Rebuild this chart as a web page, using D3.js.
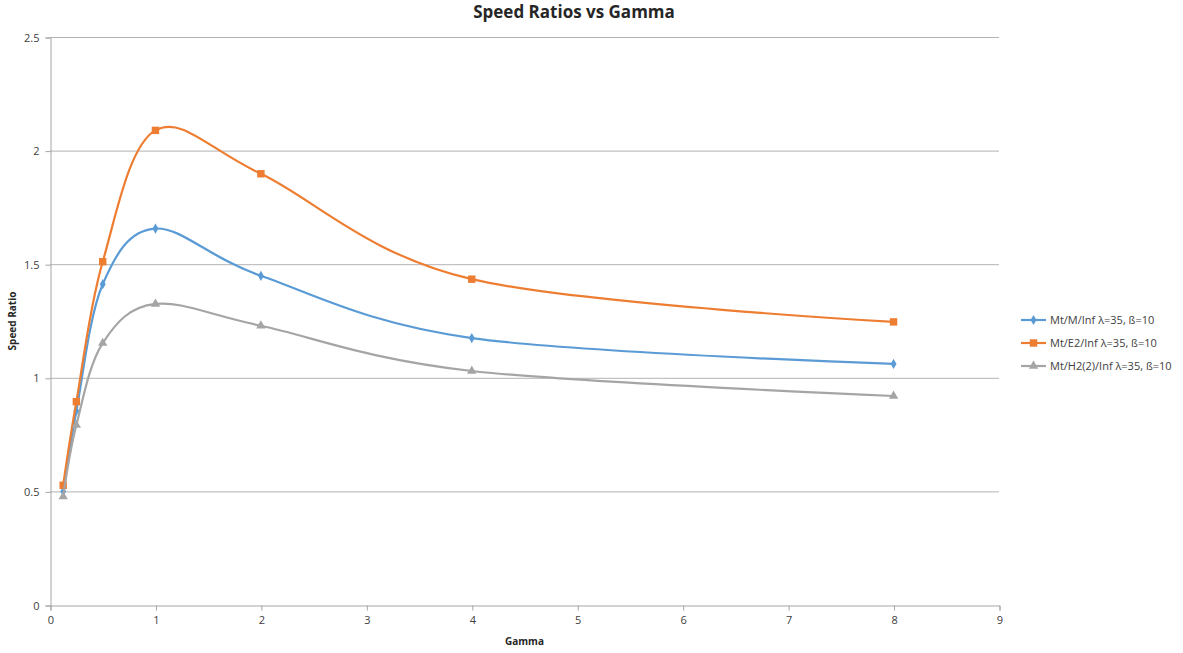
<!DOCTYPE html>
<html>
<head>
<meta charset="utf-8">
<script src="https://cdn.jsdelivr.net/npm/d3@7"></script>
<style>
  body { margin: 0; background: #fff; }
  text { font-family: "Open Sans", "Liberation Sans", sans-serif; }
</style>
</head>
<body>
<div id="chart"></div>
<script>
// data
var gamma = [0.125, 0.25, 0.5, 1, 2, 4, 8];
var mmInf = [0.50, 0.854, 1.412, 1.657, 1.449, 1.175, 1.061];
var e2Inf = [0.527, 0.895, 1.511, 2.089, 1.898, 1.434, 1.246];
var h2Inf = [0.477, 0.792, 1.153, 1.325, 1.229, 1.030, 0.920];
var seriesNames = ["Mt/M/Inf λ=35, ß=10", "Mt/E2/Inf λ=35, ß=10", "Mt/H2(2)/Inf λ=35, ß=10"];
var xTicks = [0, 1, 2, 3, 4, 5, 6, 7, 8, 9];
var yTicks = [0, 0.5, 1, 1.5, 2, 2.5];

var svgWidth = 1183;
var svgHeight = 653;
var margin = { top: 37, right: 184, bottom: 48, left: 50 };
var width = svgWidth - margin.left - margin.right;
var height = svgHeight - margin.top - margin.bottom;

var svg = d3.select("#chart")
  .append("svg")
  .attr("width", svgWidth)
  .attr("height", svgHeight);

var chartGroup = svg.append("g")
  .attr("transform", `translate(${margin.left}, ${margin.top})`);

var xScale = d3.scaleLinear().domain([0, 9]).range([0, width]);
var yScale = d3.scaleLinear().domain([0, 2.5]).range([height, 0]);

// gridlines
chartGroup.append("g")
  .selectAll("line")
  .data(yTicks.filter(d => d > 0))
  .enter()
  .append("line")
  .attr("x1", 0)
  .attr("x2", width)
  .attr("y1", d => yScale(d) + 0.5)
  .attr("y2", d => yScale(d) + 0.5)
  .attr("stroke", "#b3b3b3")
  .attr("stroke-width", 1);

// axes
var bottomAxis = d3.axisBottom(xScale).tickValues(xTicks).tickSize(5).tickPadding(6)
  .tickFormat(d => String(d));
var leftAxis = d3.axisLeft(yScale).tickValues(yTicks).tickSize(5).tickPadding(6)
  .tickFormat(d => String(d));

var xAxisG = chartGroup.append("g")
  .attr("transform", `translate(0.5, ${height + 0.5})`)
  .call(bottomAxis);
var yAxisG = chartGroup.append("g")
  .attr("transform", "translate(0.5, 0.5)")
  .call(leftAxis);

[xAxisG, yAxisG].forEach(g => {
  g.select(".domain").attr("stroke", "#a6a6a6");
  g.selectAll(".tick line").attr("stroke", "#a6a6a6");
  g.selectAll(".tick text")
    .attr("fill", "#404040")
    .style("font-size", "11px")
    .style("font-family", "'Open Sans', sans-serif");
});

// series
var allSeries = [
  { name: seriesNames[0], values: mmInf, color: "#5b9bd5", symbol: d3.symbolDiamond, size: 30 },
  { name: seriesNames[1], values: e2Inf, color: "#ed7d31", symbol: d3.symbolSquare, size: 55 },
  { name: seriesNames[2], values: h2Inf, color: "#a5a5a5", symbol: d3.symbolTriangle, size: 38 }
];

var line = d3.line()
  .x(d => xScale(d[0]))
  .y(d => yScale(d[1]))
  .curve(d3.curveCardinal.tension(0));

allSeries.forEach(s => {
  var pts = gamma.map((g, i) => [g, s.values[i]]);
  chartGroup.append("path")
    .datum(pts)
    .attr("fill", "none")
    .attr("stroke", s.color)
    .attr("stroke-width", 2.2)
    .attr("d", line);

  chartGroup.selectAll(null)
    .data(pts)
    .enter()
    .append("path")
    .attr("transform", d => `translate(${xScale(d[0])}, ${yScale(d[1])})`)
    .attr("d", d3.symbol().type(s.symbol).size(s.size))
    .attr("fill", s.color);
});

// title and axis labels
svg.append("text")
  .attr("x", 574)
  .attr("y", 18)
  .attr("text-anchor", "middle")
  .style("font-size", "17px")
  .style("font-weight", "bold")
  .attr("fill", "#262626")
  .text("Speed Ratios vs Gamma");

svg.append("text")
  .attr("transform", "rotate(-90)")
  .attr("x", -321)
  .attr("y", 16)
  .attr("text-anchor", "middle")
  .style("font-size", "10px")
  .style("font-weight", "bold")
  .attr("fill", "#262626")
  .text("Speed Ratio");

svg.append("text")
  .attr("x", margin.left + width / 2)
  .attr("y", 645)
  .attr("text-anchor", "middle")
  .style("font-size", "10px")
  .style("font-weight", "bold")
  .attr("fill", "#262626")
  .text("Gamma");

// legend
var legend = svg.append("g")
  .attr("transform", "translate(1021, 320)");

allSeries.forEach((s, i) => {
  var g = legend.append("g").attr("transform", `translate(0, ${i * 23})`);
  g.append("line")
    .attr("x1", 0).attr("x2", 25)
    .attr("y1", 0).attr("y2", 0)
    .attr("stroke", s.color)
    .attr("stroke-width", 2.2);
  g.append("path")
    .attr("transform", "translate(12.5, 0)")
    .attr("d", d3.symbol().type(s.symbol).size(s.size))
    .attr("fill", s.color);
  g.append("text")
    .attr("x", 29)
    .attr("y", 4)
    .style("font-size", "11px")
    .attr("fill", "#404040")
    .text(s.name);
});
</script>
</body>
</html>
